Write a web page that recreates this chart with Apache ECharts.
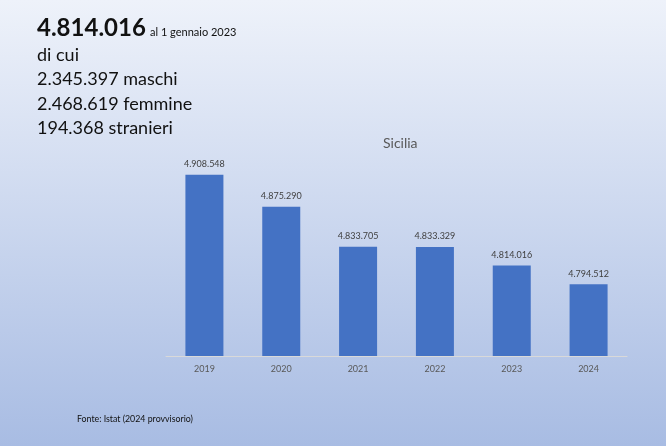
<!DOCTYPE html>
<html>
<head>
<meta charset="utf-8">
<script src="https://cdn.jsdelivr.net/npm/echarts@6/dist/echarts.min.js"></script>
<style>
  html, body { margin: 0; padding: 0; }
  #chart { width: 666px; height: 446px; }
</style>
</head>
<body>
<div id="chart"></div>
<script>
// dati
var years = ['2019', '2020', '2021', '2022', '2023', '2024'];
var residenti = [4908548, 4875290, 4833705, 4833329, 4814016, 4794512];
var infoLines = ['di cui', '2.345.397 maschi', '2.468.619 femmine', '194.368 stranieri'];

var fmt = function (v) {
    return String(v).replace(/\B(?=(\d{3})+(?!\d))/g, '.');
};

var chart = echarts.init(document.getElementById('chart'));

var graphics = [
    {
        type: 'text', left: 37, top: 16,
        style: { text: '4.814.016', font: 'bold 24px Lato', fill: '#111' }
    },
    {
        type: 'text', left: 150, top: 27,
        style: { text: 'al 1 gennaio 2023', font: '11px Lato', fill: '#111' }
    },
    {
        type: 'text', left: 77, top: 415,
        style: { text: 'Fonte: Istat (2024 provvisorio)', font: '8.8px Lato', fill: '#111' }
    }
];
infoLines.forEach(function (t, i) {
    graphics.push({
        type: 'text', left: 37, top: 46 + i * 24.5,
        style: { text: t, font: '18px Lato', fill: '#111' }
    });
});

chart.setOption({
    backgroundColor: new echarts.graphic.LinearGradient(0, 0, 0, 1, [
        { offset: 0, color: '#eef2fa' },
        { offset: 1, color: '#a8bce3' }
    ]),
    title: {
        text: 'Sicilia',
        left: 378, top: 131,
        textStyle: { fontFamily: 'Lato', fontSize: 14, fontWeight: 'normal', color: '#595959' }
    },
    graphic: graphics,
    grid: { left: 166, right: 39, top: 144.4, bottom: 90 },
    xAxis: {
        type: 'category',
        data: years,
        axisLine: { lineStyle: { color: '#d9d9d9' } },
        axisTick: { show: false },
        axisLabel: { color: '#595959', fontSize: 9, fontFamily: 'Lato', margin: 9 }
    },
    yAxis: {
        type: 'value',
        min: 4720000, max: 4940000,
        show: false,
        splitLine: { show: false }
    },
    series: [{
        type: 'bar',
        data: residenti,
        barWidth: 38,
        itemStyle: { color: '#4472c4' },
        label: {
            show: true, position: 'top', distance: 6,
            color: '#404040', fontSize: 9, fontFamily: 'Lato',
            formatter: function (p) { return fmt(p.value); }
        }
    }]
});
</script>
</body>
</html>
